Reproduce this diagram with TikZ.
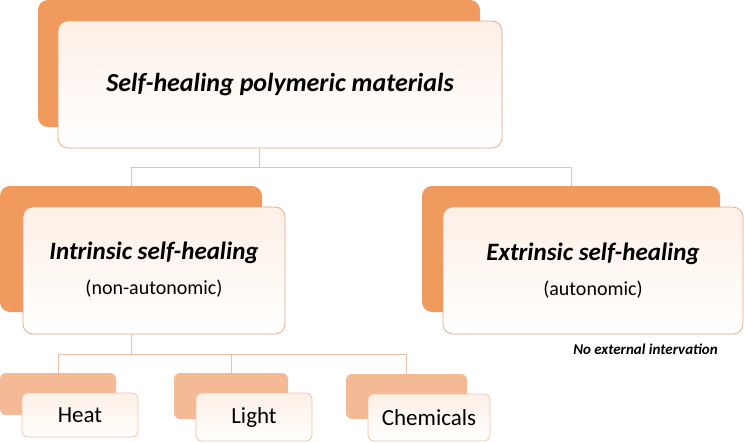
\documentclass[tikz,border=0pt]{standalone}
\usepackage{fontspec}
\setmainfont{Carlito}
\definecolor{obig}{HTML}{F19A5E}
\definecolor{osmall}{HTML}{F4BA96}
\definecolor{oborder}{HTML}{E8A47C}
\definecolor{sborder}{HTML}{F0C2A6}
\definecolor{conncol}{HTML}{EDBFA3}
\definecolor{tint}{HTML}{FDF0E6}
\begin{document}
\begin{tikzpicture}[x=1pt,y=-1pt,
  backbig/.style={fill=obig, draw=none, rounded corners=10pt, inner sep=0pt},
  backsmall/.style={fill=osmall, draw=none, rounded corners=6pt, inner sep=0pt},
  frontbig/.style={draw=oborder, line width=0.7pt, top color=tint, bottom color=white, rounded corners=10pt, inner sep=0pt, align=center},
  frontsmall/.style={draw=sborder, line width=0.7pt, top color=tint, bottom color=white, rounded corners=6pt, inner sep=0pt, font=\fontsize{23}{26}\selectfont},
  conn/.style={draw=conncol, line width=0.8pt},
  titlefont/.style={font=\fontsize{26}{30}\selectfont\bfseries\itshape},
  headfont/.style={font=\fontsize{25}{29}\selectfont\bfseries\itshape},
  subfont/.style={font=\fontsize{20}{24}\selectfont},
]
\useasboundingbox (0,0) rectangle (744,442);
% top
\node[backbig, minimum width=442pt, minimum height=127pt] (tb) at (259,63.5) {};
\node[frontbig, minimum width=444pt, minimum height=127pt] (tf) at (280,84.5) {};
\node[titlefont] (tt) at (280,85) {Self-healing polymeric materials};
% intrinsic
\node[backbig, minimum width=262pt, minimum height=126pt] (ib) at (131,249) {};
\node[frontbig, minimum width=262pt, minimum height=127pt] (if) at (154,270.5) {};
\node[headfont] (it) at (154,253) {Intrinsic self-healing};
\node[subfont] (is) at (154,289) {(non-autonomic)};
% extrinsic
\node[backbig, minimum width=298pt, minimum height=126pt] (eb) at (571,249) {};
\node[frontbig, minimum width=300pt, minimum height=127pt] (ef) at (593,270.5) {};
\node[headfont] (et) at (593,254) {Extrinsic self-healing};
\node[subfont] (es) at (593,290) {(autonomic)};
\node[font=\fontsize{15}{17}\selectfont\bfseries\itshape, anchor=east, inner sep=0pt] (note) at (718,349) {No external intervation};
% small
\node[backsmall, minimum width=116pt, minimum height=42pt] (hb) at (58,394) {};
\node[frontsmall, minimum width=116pt, minimum height=44pt] (hf) at (80,415) {Heat};
\node[backsmall, minimum width=114pt, minimum height=46pt] (lb) at (231,396) {};
\node[frontsmall, minimum width=116pt, minimum height=48pt] (lf) at (254,417) {Light};
\node[backsmall, minimum width=121pt, minimum height=45pt] (cb) at (406.5,396.5) {};
\node[frontsmall, minimum width=122pt, minimum height=47pt] (cf) at (429,417.5) {Chemicals};
% connectors
\coordinate (j1) at (259,167);
\coordinate (j2) at (131,354);
\draw[conn] (tb.south |- tf.south) -- (j1);
\draw[conn] (j1) -| (ib.north);
\draw[conn] (j1) -| (eb.north);
\draw[conn] (ib.south |- if.south) -- (j2);
\draw[conn] (j2) -| (hb.north);
\draw[conn] (j2) -| (lb.north);
\draw[conn] (j2) -| (cb.north);
\end{tikzpicture}
\end{document}
